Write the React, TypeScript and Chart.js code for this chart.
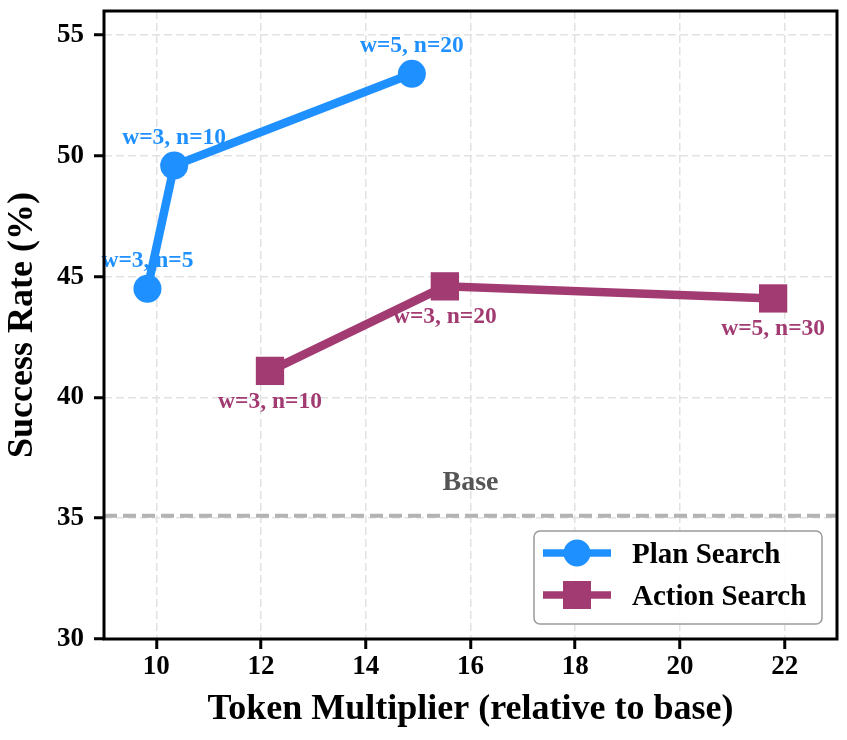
import React, { useEffect, useRef } from 'react';
import { Chart, registerables } from 'chart.js';

Chart.register(...registerables);

// ---- data ----
const planX = [9.83, 10.34, 14.88];
const planY = [44.5, 49.6, 53.4];
const planLabels = ['w=3, n=5', 'w=3, n=10', 'w=5, n=20'];
const actionX = [12.17, 15.51, 21.78];
const actionY = [41.1, 44.6, 44.1];
const actionLabels = ['w=3, n=10', 'w=3, n=20', 'w=5, n=30'];
const baseRate = 35.1;
const baseLabel = 'Base';
const baseLabelX = 16;
const xTicks = [10, 12, 14, 16, 18, 20, 22];
const yTicks = [30, 35, 40, 45, 50, 55];
const xRange = [9, 23];
const yRange = [30, 56];
const seriesNames = ['Plan Search', 'Action Search'];
const xTitle = 'Token Multiplier (relative to base)';
const yTitle = 'Success Rate (%)';

// ---- style ----
const BLUE = '#1E90FF';
const PURPLE = '#A23B72';
const FONT = "'Liberation Serif', 'Times New Roman', serif";

const baseLinePlugin = {
  id: 'baseLine',
  beforeDatasetsDraw(chart: any) {
    const { ctx, chartArea, scales } = chart;
    const y = scales.y.getPixelForValue(baseRate);
    ctx.save();
    ctx.beginPath();
    ctx.setLineDash([13, 6]);
    ctx.lineWidth = 4;
    ctx.strokeStyle = '#b3b3b3';
    ctx.moveTo(chartArea.left, y);
    ctx.lineTo(chartArea.right, y);
    ctx.stroke();
    ctx.setLineDash([]);
    ctx.font = `bold 28px ${FONT}`;
    ctx.fillStyle = '#555555';
    ctx.textAlign = 'center';
    ctx.textBaseline = 'alphabetic';
    ctx.fillText(baseLabel, scales.x.getPixelForValue(baseLabelX), y - 26);
    ctx.restore();
  },
};

const labelsPlugin = {
  id: 'pointLabels',
  afterDatasetsDraw(chart: any) {
    const { ctx, chartArea } = chart;
    ctx.save();
    ctx.font = `bold 23.5px ${FONT}`;
    ctx.textAlign = 'center';
    ctx.textBaseline = 'alphabetic';
    const sets = [
      { idx: 0, labels: planLabels, color: BLUE, dy: -22 },
      { idx: 1, labels: actionLabels, color: PURPLE, dy: 37 },
    ];
    sets.forEach((s) => {
      const meta = chart.getDatasetMeta(s.idx);
      ctx.fillStyle = s.color;
      meta.data.forEach((pt: any, i: number) => {
        ctx.fillText(s.labels[i], pt.x, pt.y + s.dy);
      });
    });
    // spines
    ctx.lineWidth = 3;
    ctx.strokeStyle = '#000';
    ctx.strokeRect(chartArea.left, chartArea.top, chartArea.right - chartArea.left, chartArea.bottom - chartArea.top);
    ctx.restore();
  },
};

const legendPlugin = {
  id: 'customLegend',
  afterDraw(chart: any) {
    const { ctx, chartArea } = chart;
    const w = 288;
    const h = 93;
    const x0 = chartArea.right - 15 - w;
    const y0 = chartArea.bottom - 15 - h;
    ctx.save();
    ctx.beginPath();
    ctx.roundRect(x0, y0, w, h, 6);
    ctx.fillStyle = 'rgba(255,255,255,0.9)';
    ctx.fill();
    ctx.lineWidth = 1.5;
    ctx.strokeStyle = '#9a9a9a';
    ctx.stroke();
    const rows = [
      { name: seriesNames[0], color: BLUE, marker: 'circle', y: y0 + 22 },
      { name: seriesNames[1], color: PURPLE, marker: 'rect', y: y0 + 64 },
    ];
    rows.forEach((r) => {
      ctx.beginPath();
      ctx.strokeStyle = r.color;
      ctx.lineWidth = 7.5;
      ctx.moveTo(x0 + 9, r.y);
      ctx.lineTo(x0 + 77, r.y);
      ctx.stroke();
      ctx.fillStyle = r.color;
      ctx.beginPath();
      if (r.marker === 'circle') {
        ctx.arc(x0 + 43, r.y, 13.5, 0, Math.PI * 2);
      } else {
        ctx.rect(x0 + 43 - 14, r.y - 14, 28, 28);
      }
      ctx.fill();
      ctx.fillStyle = '#000';
      ctx.font = `bold 29px ${FONT}`;
      ctx.textAlign = 'left';
      ctx.textBaseline = 'alphabetic';
      ctx.fillText(r.name, x0 + 98, r.y + 10);
    });
    ctx.restore();
  },
};

const zeroPad = (s: any) => {
  s.paddingTop = 0;
  s.paddingBottom = 0;
  s.paddingLeft = 0;
  s.paddingRight = 0;
};

export default function App() {
  const ref = useRef<HTMLCanvasElement | null>(null);
  useEffect(() => {
    document.body.style.margin = '0';
    document.body.style.overflow = 'hidden';
    const canvas = ref.current;
    if (!canvas) return;
    const tickFont = { family: FONT, size: 27, weight: 'bold' as const, lineHeight: 1 };
    const titleFont = { family: FONT, size: 36, weight: 'bold' as const, lineHeight: 1 };
    const chart = new Chart(canvas, {
      type: 'line',
      data: {
        datasets: [
          {
            label: seriesNames[0],
            data: planX.map((x, i) => ({ x, y: planY[i] })),
            borderColor: BLUE,
            backgroundColor: BLUE,
            borderWidth: 8.5,
            pointStyle: 'circle',
            pointRadius: 14,
            pointBorderWidth: 0,
            pointBackgroundColor: BLUE,
            tension: 0,
          },
          {
            label: seriesNames[1],
            data: actionX.map((x, i) => ({ x, y: actionY[i] })),
            borderColor: PURPLE,
            backgroundColor: PURPLE,
            borderWidth: 8.5,
            pointStyle: 'rect',
            pointRadius: 20,
            pointBorderWidth: 0,
            pointBackgroundColor: PURPLE,
            tension: 0,
          },
        ],
      },
      options: {
        responsive: false,
        animation: false,
        devicePixelRatio: 1,
        events: [],
        layout: { autoPadding: false, padding: { left: 0, top: 11, right: 10, bottom: 0 } },
        plugins: {
          legend: { display: false },
          tooltip: { enabled: false },
          title: { display: false },
        },
        scales: {
          x: {
            type: 'linear',
            min: xRange[0],
            max: xRange[1],
            afterBuildTicks: (s: any) => {
              s.ticks = xTicks.map((v) => ({ value: v }));
            },
            afterFit: (s: any) => {
              s.height = 101;
              zeroPad(s);
            },
            border: { display: false, dash: [8, 4] },
            grid: {
              color: '#e2e2e2',
              lineWidth: 1.5,
              drawTicks: true,
              tickLength: 10,
              tickColor: '#000',
              tickWidth: 3,
            },
            ticks: {
              color: '#000',
              font: tickFont,
              padding: 5,
              maxRotation: 0,
              autoSkip: false,
            },
            title: {
              display: true,
              text: xTitle,
              color: '#000',
              font: titleFont,
              padding: { top: 0, bottom: 12 },
            },
          },
          y: {
            type: 'linear',
            min: yRange[0],
            max: yRange[1],
            afterBuildTicks: (s: any) => {
              s.ticks = yTicks.map((v) => ({ value: v }));
            },
            afterFit: (s: any) => {
              s.width = 104;
              zeroPad(s);
            },
            border: { display: false, dash: [8, 4] },
            grid: {
              color: '#e2e2e2',
              lineWidth: 1.5,
              drawTicks: true,
              tickLength: 10,
              tickColor: '#000',
              tickWidth: 3,
            },
            ticks: {
              color: '#000',
              font: tickFont,
              padding: 10,
              autoSkip: false,
            },
            title: {
              display: true,
              text: yTitle,
              color: '#000',
              font: titleFont,
              padding: { top: 5, bottom: 0 },
            },
          },
        },
      },
      plugins: [baseLinePlugin, labelsPlugin, legendPlugin],
    } as any);
    return () => chart.destroy();
  }, []);
  return (
    <div style={{ width: 847, height: 740 }}>
      <canvas ref={ref} width={847} height={740} style={{ display: 'block' }} />
    </div>
  );
}
